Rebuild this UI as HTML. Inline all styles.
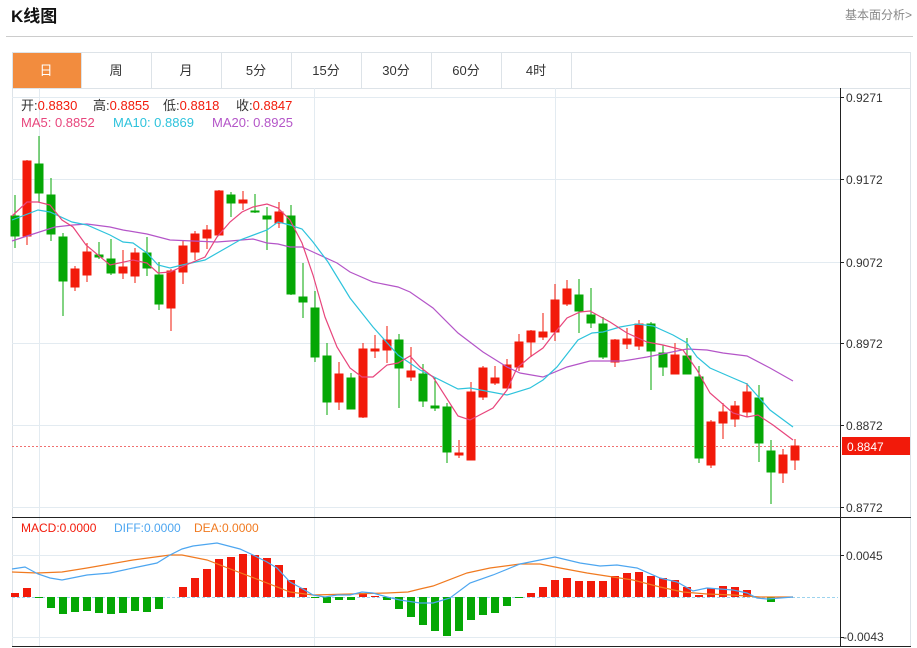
<!DOCTYPE html>
<html><head><meta charset="utf-8"><style>
body{margin:0;width:917px;height:648px;background:#fff;overflow:hidden;font-family:"Liberation Sans","Noto Sans CJK SC",sans-serif;}
svg{position:absolute;left:0;top:0}
</style></head><body>
<svg width="917" height="648" xmlns="http://www.w3.org/2000/svg" font-family="Liberation Sans, Noto Sans CJK SC, sans-serif">
<text x="11" y="22" font-size="17" font-weight="bold" fill="#111">K线图</text>
<text x="912" y="19" font-size="12" fill="#888" text-anchor="end">基本面分析&gt;</text>
<line x1="6" y1="36.5" x2="913" y2="36.5" stroke="#ccc"/>
<rect x="12.5" y="52.5" width="898" height="594" fill="none" stroke="#dde3e8"/>
<line x1="12" y1="88.5" x2="911" y2="88.5" stroke="#dde3e8"/>
<rect x="13" y="53" width="68" height="35" fill="#f28c3e"/>
<g stroke="#dde3e8"><line x1="81.5" y1="53" x2="81.5" y2="88"/><line x1="151.5" y1="53" x2="151.5" y2="88"/><line x1="221.5" y1="53" x2="221.5" y2="88"/><line x1="291.5" y1="53" x2="291.5" y2="88"/><line x1="361.5" y1="53" x2="361.5" y2="88"/><line x1="431.5" y1="53" x2="431.5" y2="88"/><line x1="501.5" y1="53" x2="501.5" y2="88"/><line x1="571.5" y1="53" x2="571.5" y2="88"/></g>
<g font-size="13" text-anchor="middle" fill="#333"><text x="46" y="75" fill="#fff">日</text><text x="116" y="75">周</text><text x="186" y="75">月</text><text x="256" y="75">5分</text><text x="326" y="75">15分</text><text x="396" y="75">30分</text><text x="466" y="75">60分</text><text x="536" y="75">4时</text></g>
<g stroke="#e3ebf1"><line x1="12" y1="97.5" x2="840" y2="97.5"/><line x1="12" y1="179.5" x2="840" y2="179.5"/><line x1="12" y1="262.5" x2="840" y2="262.5"/><line x1="12" y1="343.5" x2="840" y2="343.5"/><line x1="12" y1="425.5" x2="840" y2="425.5"/><line x1="12" y1="507.5" x2="840" y2="507.5"/>
<line x1="39.5" y1="88" x2="39.5" y2="646"/><line x1="314.5" y1="88" x2="314.5" y2="646"/><line x1="555.5" y1="88" x2="555.5" y2="646"/>
<line x1="12" y1="555.5" x2="840" y2="555.5"/><line x1="12" y1="637.5" x2="840" y2="637.5"/></g>
<line x1="840.5" y1="88" x2="840.5" y2="647" stroke="#222"/>
<line x1="12" y1="517.5" x2="911" y2="517.5" stroke="#222"/>
<line x1="12" y1="646.5" x2="911" y2="646.5" stroke="#222"/>
<g font-size="12" fill="#333"><text x="846" y="102">0.9271</text><text x="846" y="184">0.9172</text><text x="846" y="267">0.9072</text><text x="846" y="348">0.8972</text><text x="846" y="430">0.8872</text><text x="846" y="512">0.8772</text><text x="846" y="560">0.0045</text><text x="843" y="641">-0.0043</text></g>
<g stroke="#222"><line x1="840" y1="97.5" x2="844" y2="97.5"/><line x1="840" y1="179.5" x2="844" y2="179.5"/><line x1="840" y1="262.5" x2="844" y2="262.5"/><line x1="840" y1="343.5" x2="844" y2="343.5"/><line x1="840" y1="425.5" x2="844" y2="425.5"/><line x1="840" y1="507.5" x2="844" y2="507.5"/><line x1="840" y1="555.5" x2="844" y2="555.5"/><line x1="840" y1="637.5" x2="844" y2="637.5"/></g>
<line x1="12" y1="446.5" x2="840" y2="446.5" stroke="#f07070" stroke-dasharray="2,2"/>
<rect x="842" y="437" width="68" height="18" fill="#f21a0a"/>
<text x="847" y="451" font-size="12" fill="#fff">0.8847</text>
<g font-size="13"><text x="21" y="110" fill="#333">开:<tspan fill="#f21a0a">0.8830</tspan></text><text x="93" y="110" fill="#333">高:<tspan fill="#f21a0a">0.8855</tspan></text><text x="163" y="110" fill="#333">低:<tspan fill="#f21a0a">0.8818</tspan></text><text x="236" y="110" fill="#333">收:<tspan fill="#f21a0a">0.8847</tspan></text>
<text x="21" y="127" fill="#e8457c">MA5: 0.8852</text><text x="113" y="127" fill="#2ec3dc">MA10: 0.8869</text><text x="212" y="127" fill="#b455c8">MA20: 0.8925</text></g>
<g font-size="12"><text x="21" y="532" fill="#f21a0a">MACD:0.0000</text><text x="114" y="532" fill="#4da6f0">DIFF:0.0000</text><text x="194" y="532" fill="#f07a20">DEA:0.0000</text></g>
<g fill="#05a705" stroke="#05a705">
<line x1="15" y1="195" x2="15" y2="248"/><rect x="11" y="216" width="8" height="20"/>
<line x1="39" y1="136" x2="39" y2="202"/><rect x="35" y="164" width="8" height="29"/>
<line x1="51" y1="178" x2="51" y2="241"/><rect x="47" y="195" width="8" height="39"/>
<line x1="63" y1="233" x2="63" y2="316"/><rect x="59" y="237" width="8" height="44"/>
<line x1="99" y1="242" x2="99" y2="259"/><rect x="95" y="255" width="8" height="2"/>
<line x1="111" y1="239" x2="111" y2="275"/><rect x="107" y="259" width="8" height="14"/>
<line x1="147" y1="237" x2="147" y2="276"/><rect x="143" y="253" width="8" height="15"/>
<line x1="159" y1="262" x2="159" y2="310"/><rect x="155" y="275" width="8" height="29"/>
<line x1="231" y1="192" x2="231" y2="217"/><rect x="227" y="195" width="8" height="8"/>
<line x1="255" y1="194" x2="255" y2="213"/><rect x="251" y="211" width="8" height="1"/>
<line x1="267" y1="207" x2="267" y2="250"/><rect x="263" y="216" width="8" height="3"/>
<line x1="291" y1="205" x2="291" y2="295"/><rect x="287" y="216" width="8" height="78"/>
<line x1="303" y1="263" x2="303" y2="318"/><rect x="299" y="297" width="8" height="5"/>
<line x1="315" y1="291" x2="315" y2="362"/><rect x="311" y="308" width="8" height="49"/>
<line x1="327" y1="343" x2="327" y2="415"/><rect x="323" y="356" width="8" height="46"/>
<line x1="351" y1="373" x2="351" y2="409"/><rect x="347" y="378" width="8" height="31"/>
<line x1="399" y1="334" x2="399" y2="408"/><rect x="395" y="340" width="8" height="28"/>
<line x1="423" y1="364" x2="423" y2="407"/><rect x="419" y="374" width="8" height="27"/>
<line x1="435" y1="377" x2="435" y2="411"/><rect x="431" y="406" width="8" height="2"/>
<line x1="447" y1="403" x2="447" y2="463"/><rect x="443" y="407" width="8" height="45"/>
<line x1="579" y1="279" x2="579" y2="333"/><rect x="575" y="295" width="8" height="16"/>
<line x1="591" y1="288" x2="591" y2="328"/><rect x="587" y="315" width="8" height="8"/>
<line x1="603" y1="317" x2="603" y2="359"/><rect x="599" y="324" width="8" height="33"/>
<line x1="651" y1="322" x2="651" y2="390"/><rect x="647" y="324" width="8" height="27"/>
<line x1="663" y1="345" x2="663" y2="376"/><rect x="659" y="353" width="8" height="14"/>
<line x1="687" y1="338" x2="687" y2="374"/><rect x="683" y="356" width="8" height="18"/>
<line x1="699" y1="366" x2="699" y2="463"/><rect x="695" y="377" width="8" height="81"/>
<line x1="759" y1="385" x2="759" y2="462"/><rect x="755" y="398" width="8" height="45"/>
<line x1="771" y1="440" x2="771" y2="504"/><rect x="767" y="451" width="8" height="21"/>
</g>
<g fill="#f21a0a" stroke="#f21a0a">
<line x1="27" y1="160" x2="27" y2="245"/><rect x="23" y="161" width="8" height="75"/>
<line x1="75" y1="266" x2="75" y2="291"/><rect x="71" y="269" width="8" height="18"/>
<line x1="87" y1="243" x2="87" y2="282"/><rect x="83" y="252" width="8" height="23"/>
<line x1="123" y1="250" x2="123" y2="279"/><rect x="119" y="267" width="8" height="6"/>
<line x1="135" y1="248" x2="135" y2="283"/><rect x="131" y="253" width="8" height="23"/>
<line x1="171" y1="269" x2="171" y2="331"/><rect x="167" y="271" width="8" height="37"/>
<line x1="183" y1="240" x2="183" y2="284"/><rect x="179" y="246" width="8" height="26"/>
<line x1="195" y1="231" x2="195" y2="260"/><rect x="191" y="234" width="8" height="18"/>
<line x1="207" y1="225" x2="207" y2="249"/><rect x="203" y="230" width="8" height="8"/>
<line x1="219" y1="190" x2="219" y2="235"/><rect x="215" y="191" width="8" height="44"/>
<line x1="243" y1="191" x2="243" y2="210"/><rect x="239" y="200" width="8" height="3"/>
<line x1="279" y1="202" x2="279" y2="228"/><rect x="275" y="212" width="8" height="11"/>
<line x1="339" y1="362" x2="339" y2="410"/><rect x="335" y="374" width="8" height="28"/>
<line x1="363" y1="343" x2="363" y2="418"/><rect x="359" y="349" width="8" height="68"/>
<line x1="375" y1="335" x2="375" y2="358"/><rect x="371" y="349" width="8" height="2"/>
<line x1="387" y1="326" x2="387" y2="363"/><rect x="383" y="340" width="8" height="10"/>
<line x1="411" y1="347" x2="411" y2="381"/><rect x="407" y="371" width="8" height="6"/>
<line x1="459" y1="440" x2="459" y2="458"/><rect x="455" y="453" width="8" height="2"/>
<line x1="471" y1="382" x2="471" y2="460"/><rect x="467" y="392" width="8" height="68"/>
<line x1="483" y1="366" x2="483" y2="400"/><rect x="479" y="368" width="8" height="29"/>
<line x1="495" y1="366" x2="495" y2="385"/><rect x="491" y="378" width="8" height="5"/>
<line x1="507" y1="359" x2="507" y2="388"/><rect x="503" y="365" width="8" height="23"/>
<line x1="519" y1="334" x2="519" y2="371"/><rect x="515" y="342" width="8" height="25"/>
<line x1="531" y1="330" x2="531" y2="357"/><rect x="527" y="331" width="8" height="11"/>
<line x1="543" y1="313" x2="543" y2="340"/><rect x="539" y="332" width="8" height="5"/>
<line x1="555" y1="284" x2="555" y2="341"/><rect x="551" y="300" width="8" height="32"/>
<line x1="567" y1="280" x2="567" y2="306"/><rect x="563" y="289" width="8" height="15"/>
<line x1="615" y1="339" x2="615" y2="367"/><rect x="611" y="340" width="8" height="22"/>
<line x1="627" y1="328" x2="627" y2="349"/><rect x="623" y="339" width="8" height="5"/>
<line x1="639" y1="320" x2="639" y2="350"/><rect x="635" y="324" width="8" height="22"/>
<line x1="675" y1="343" x2="675" y2="374"/><rect x="671" y="355" width="8" height="19"/>
<line x1="711" y1="420" x2="711" y2="468"/><rect x="707" y="422" width="8" height="43"/>
<line x1="723" y1="403" x2="723" y2="439"/><rect x="719" y="412" width="8" height="11"/>
<line x1="735" y1="401" x2="735" y2="427"/><rect x="731" y="406" width="8" height="13"/>
<line x1="747" y1="383" x2="747" y2="417"/><rect x="743" y="392" width="8" height="20"/>
<line x1="783" y1="449" x2="783" y2="483"/><rect x="779" y="455" width="8" height="18"/>
<line x1="795" y1="439" x2="795" y2="470"/><rect x="791" y="446" width="8" height="14"/>
</g>
<g fill="none" stroke-width="1.2">
<polyline stroke="#b455c8" points="12,241 27,236 55,227 73,225 87,224 110,227 123,230 147,234 170,240 193,241 217,242 230,241 253,239 267,243 278,244 290,247 302,247 313,252 337,263 350,272 373,282 398,287 410,292 433,308 458,333 483,352 507,367 520,373 543,377 567,367 590,361 623,361 647,357 687,349 707,350 723,353 747,356 770,368 793,381"/>
<polyline stroke="#2ec3dc" points="12,220 38,210 50,212 72,222 87,225 110,235 123,242 133,243 147,253 158,265 170,268 182,265 205,260 240,240 267,230 278,222 290,225 302,229 313,242 328,262 350,298 373,327 398,355 420,370 458,389 470,388 507,395 530,388 543,380 557,367 578,340 592,333 603,332 620,327 637,324 653,326 673,335 687,343 697,357 710,368 733,378 747,384 770,410 793,427"/>
<polyline stroke="#e8457c" points="12,216 27,202 38,202 50,205 62,220 73,227 86,245 110,265 133,260 147,263 158,273 170,272 193,262 205,257 217,237 230,222 242,212 253,207 267,204 278,208 290,220 302,243 313,275 325,317 337,347 350,368 362,377 373,377 387,365 398,363 410,356 420,367 433,377 458,416 470,420 493,408 507,390 517,368 530,357 543,348 553,335 567,318 580,312 590,311 610,322 627,333 647,342 663,345 683,350 697,370 710,393 733,413 747,417 758,415 773,425 793,440"/>
</g>
<line x1="12" y1="597.5" x2="838" y2="597.5" stroke="#9cd3ee" stroke-dasharray="3,2"/>
<g fill="#f21a0a">
<rect x="11" y="593" width="8" height="4"/><rect x="23" y="588" width="8" height="9"/>
<rect x="179" y="587" width="8" height="10"/><rect x="191" y="578" width="8" height="19"/><rect x="203" y="569" width="8" height="28"/><rect x="215" y="559" width="8" height="38"/><rect x="227" y="557" width="8" height="40"/><rect x="239" y="554" width="8" height="43"/><rect x="251" y="555" width="8" height="42"/><rect x="263" y="558" width="8" height="39"/><rect x="275" y="565" width="8" height="32"/><rect x="287" y="580" width="8" height="17"/><rect x="299" y="588" width="8" height="9"/>
<rect x="359" y="593" width="8" height="4"/><rect x="371" y="596" width="8" height="1"/>
<rect x="527" y="593" width="8" height="4"/><rect x="539" y="587" width="8" height="10"/><rect x="551" y="580" width="8" height="17"/><rect x="563" y="578" width="8" height="19"/><rect x="575" y="581" width="8" height="16"/><rect x="587" y="581" width="8" height="16"/><rect x="599" y="581" width="8" height="16"/><rect x="611" y="576" width="8" height="21"/><rect x="623" y="573" width="8" height="24"/><rect x="635" y="572" width="8" height="25"/><rect x="647" y="576" width="8" height="21"/><rect x="659" y="578" width="8" height="19"/><rect x="671" y="580" width="8" height="17"/><rect x="683" y="587" width="8" height="10"/><rect x="695" y="595" width="8" height="2"/><rect x="707" y="588" width="8" height="9"/><rect x="719" y="586" width="8" height="11"/><rect x="731" y="587" width="8" height="10"/><rect x="743" y="590" width="8" height="7"/>
</g>
<g fill="#05a705">
<rect x="35" y="597" width="8" height="1"/><rect x="47" y="597" width="8" height="11"/><rect x="59" y="597" width="8" height="17"/><rect x="71" y="597" width="8" height="15"/><rect x="83" y="597" width="8" height="14"/><rect x="95" y="597" width="8" height="16"/><rect x="107" y="597" width="8" height="17"/><rect x="119" y="597" width="8" height="16"/><rect x="131" y="597" width="8" height="14"/><rect x="143" y="597" width="8" height="15"/><rect x="155" y="597" width="8" height="12"/>
<rect x="311" y="597" width="8" height="1"/><rect x="323" y="597" width="8" height="6"/><rect x="335" y="597" width="8" height="3"/><rect x="347" y="597" width="8" height="3"/>
<rect x="383" y="597" width="8" height="3"/><rect x="395" y="597" width="8" height="12"/><rect x="407" y="597" width="8" height="20"/><rect x="419" y="597" width="8" height="28"/><rect x="431" y="597" width="8" height="34"/><rect x="443" y="597" width="8" height="39"/><rect x="455" y="597" width="8" height="34"/><rect x="467" y="597" width="8" height="23"/><rect x="479" y="597" width="8" height="18"/><rect x="491" y="597" width="8" height="16"/><rect x="503" y="597" width="8" height="9"/><rect x="515" y="597" width="8" height="1"/>
<rect x="767" y="597" width="8" height="5"/>
</g>
<g fill="none" stroke-width="1.2">
<polyline stroke="#f07a20" points="12,572 37,573 62,572 87,568 133,560 170,555 182,555 207,560 233,570 267,583 290,592 313,595 350,594 387,593 408,592 420,589 433,586 467,573 490,568 520,564 540,564 560,568 587,573 613,577 633,580 660,587 683,592 707,594 733,595 760,597 793,597"/>
<polyline stroke="#4da6f0" points="12,569 25,567 38,574 50,578 62,580 87,575 110,573 133,568 157,563 170,555 182,549 193,546 217,543 240,549 253,555 267,562 277,568 290,582 303,589 313,595 325,597 337,595 350,595 362,592 373,593 387,597 400,600 420,603 433,603 450,598 470,583 493,575 520,564 540,560 555,557 580,563 600,566 617,565 637,568 660,578 677,582 693,591 707,588 733,590 747,593 757,598 767,599 780,598 793,597"/>
</g>
</svg>
</body></html>
